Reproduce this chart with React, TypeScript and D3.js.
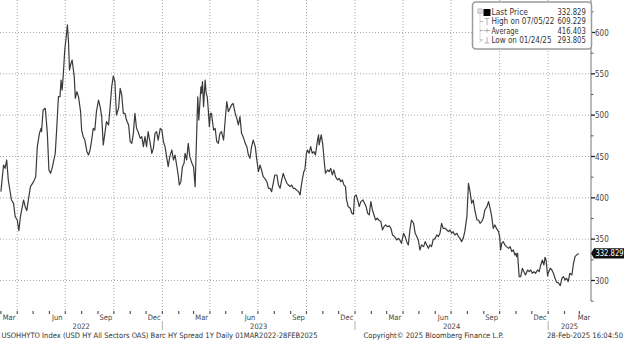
import React from "react";
import * as d3 from "d3";

const START_DATE = "2022-03-01";
// days since START_DATE
const dayOffsets = [
  0, 5, 8, 11, 14, 20, 24, 27, 31, 34, 37, 43, 46, 49, 52, 56, 62, 66, 69, 73, 76, 77, 80, 84, 85, 88, 91, 94, 97,
  103, 106, 109, 112, 114, 116, 118, 121, 124, 126, 128, 130, 132, 135, 139, 141, 144, 147, 151, 153, 156, 159,
  163, 166, 169, 172, 175, 178, 181, 185, 188, 191, 194, 197, 200, 204, 207, 210, 213, 216, 219, 223, 226, 229,
  232, 235, 238, 242, 245, 248, 251, 254, 257, 260, 264, 267, 270, 273, 276, 279, 283, 286, 289, 292, 295, 298,
  302, 305, 308, 311, 314, 317, 320, 324, 327, 330, 333, 336, 338, 341, 344, 347, 349, 352, 355, 358, 362, 365,
  368, 373, 375, 379, 380, 382, 384, 387, 389, 391, 393, 395, 397, 399, 403, 406, 409, 412, 415, 418, 422, 425,
  428, 431, 434, 437, 440, 444, 447, 450, 453, 456, 459, 463, 466, 469, 472, 475, 478, 482, 485, 488, 491, 494,
  497, 500, 504, 507, 510, 513, 516, 519, 523, 526, 529, 532, 535, 538, 542, 545, 548, 551, 554, 557, 560, 564,
  567, 569, 571, 574, 576, 579, 581, 584, 587, 590, 593, 596, 600, 602, 603, 607, 610, 613, 615, 619, 622, 625,
  628, 631, 634, 638, 641, 644, 647, 650, 653, 655, 658, 662, 665, 668, 670, 673, 676, 679, 682, 686, 689, 692,
  695, 698, 701, 704, 707, 710, 713, 716, 720, 723, 726, 729, 732, 736, 739, 742, 746, 750, 753, 756, 759, 763,
  766, 769, 772, 775, 778, 782, 785, 788, 791, 794, 797, 801, 804, 807, 810, 813, 816, 819, 823, 826, 829, 832,
  835, 838, 842, 845, 848, 851, 854, 857, 860, 864, 867, 870, 873, 876, 879, 883, 886, 889, 892, 895, 898, 902,
  905, 908, 911, 914, 917, 921, 924, 927, 930, 933, 936, 939, 943, 945, 947, 949, 952, 955, 958, 962, 965, 968,
  971, 974, 976, 977, 979, 982, 985, 988, 991, 994, 998, 1001, 1004, 1007, 1010, 1013, 1017, 1020, 1023, 1026,
  1029, 1031, 1033, 1036, 1037, 1041, 1044, 1047, 1050, 1053, 1056, 1060, 1063, 1066, 1069, 1072, 1075, 1078,
  1082, 1085, 1088, 1091, 1095,
];
const spreadValues = [
  407.5, 439.7, 435.7, 445.8, 421.6, 397.4, 393.3, 377.2, 373.2, 360.3, 377.2, 397.4, 389.3, 384.5, 397.4, 413.5,
  419.6, 425.6, 461.9, 478.0, 484.1, 480.0, 506.2, 508.3, 502.2, 478.0, 433.7, 429.6, 435.7, 453.8, 486.1, 522.4,
  522.4, 542.5, 530.4, 546.6, 578.8, 596.0, 609.2, 590.0, 554.6, 560.7, 566.7, 546.6, 520.4, 528.4, 522.4, 504.2,
  482.0, 474.0, 469.9, 455.8, 451.8, 457.9, 469.9, 484.1, 482.0, 504.2, 518.3, 510.3, 498.2, 463.9, 478.0, 492.1,
  488.1, 510.3, 534.5, 547.4, 540.5, 500.2, 508.3, 532.4, 524.4, 502.2, 502.2, 494.1, 488.1, 467.9, 465.9, 478.0,
  502.2, 484.1, 480.0, 472.0, 474.0, 461.9, 474.0, 461.9, 480.0, 465.9, 453.8, 459.9, 478.0, 480.0, 469.9, 484.1,
  482.0, 467.9, 461.9, 449.8, 437.7, 449.8, 457.9, 445.8, 451.8, 439.7, 427.6, 415.5, 419.6, 437.7, 441.7, 453.8,
  445.8, 465.9, 449.8, 441.7, 437.7, 413.5, 522.3, 494.1, 534.4, 526.4, 540.5, 510.3, 542.5, 526.4, 522.3, 506.2,
  486.1, 502.2, 502.2, 482.0, 484.0, 467.9, 465.9, 478.0, 480.0, 469.9, 494.1, 516.3, 504.2, 508.2, 512.3, 514.3,
  502.2, 496.1, 488.1, 498.2, 478.0, 474.0, 465.9, 461.9, 451.8, 447.8, 461.9, 469.9, 461.9, 445.7, 431.6, 439.7,
  433.6, 425.6, 423.6, 419.5, 411.5, 411.5, 407.4, 417.5, 427.6, 427.6, 415.5, 411.5, 421.5, 429.6, 423.6, 417.5,
  415.5, 413.5, 415.5, 411.5, 411.5, 409.5, 407.5, 403.5, 413.6, 421.6, 431.7, 433.7, 453.9, 457.9, 453.9, 461.9,
  453.9, 455.9, 451.9, 470.0, 476.1, 464.0, 476.1, 464.0, 441.8, 429.7, 433.7, 431.7, 435.7, 427.7, 433.7, 425.7,
  421.6, 423.6, 419.6, 421.6, 415.6, 413.6, 397.4, 389.4, 387.4, 381.3, 380.1, 401.5, 403.5, 397.4, 389.4, 395.4,
  397.4, 393.4, 389.4, 381.3, 379.3, 395.4, 385.3, 379.3, 373.2, 375.3, 373.2, 371.2, 361.1, 365.2, 367.2, 365.2,
  366.0, 363.2, 355.1, 353.1, 349.0, 351.0, 349.0, 345.0, 357.1, 353.1, 347.0, 343.0, 361.1, 373.2, 369.2, 357.1,
  353.1, 349.0, 336.9, 343.0, 341.0, 347.0, 343.0, 338.9, 343.0, 341.0, 349.0, 351.0, 355.1, 353.1, 357.1, 369.2,
  363.1, 363.1, 361.1, 359.1, 361.1, 357.1, 359.1, 355.1, 357.1, 353.1, 351.0, 347.0, 351.0, 359.1, 377.2, 417.6,
  407.5, 393.4, 397.4, 385.3, 373.2, 373.2, 369.2, 371.2, 375.2, 385.3, 389.3, 395.4, 387.3, 377.2, 363.1, 367.2,
  363.1, 359.1, 353.1, 336.9, 345.0, 347.0, 343.0, 341.0, 338.9, 341.0, 334.9, 336.9, 330.9, 332.9, 328.9, 332.9,
  304.7, 304.7, 314.8, 310.7, 306.7, 312.7, 310.7, 312.7, 308.7, 310.7, 308.7, 312.7, 310.7, 318.8, 324.8, 318.8,
  328.1, 324.8, 305.5, 308.7, 314.8, 312.7, 308.7, 302.7, 298.0, 297.5, 293.8, 302.7, 304.7, 300.6, 302.7, 298.6,
  308.7, 306.7, 320.8, 328.9, 331.0, 332.8,
];

const yTickValues = [300, 350, 400, 450, 500, 550, 600];
const yMinorValues = [275, 325, 375, 425, 475, 525, 575, 625];
const monthLabelNames = ["Mar", "Jun", "Sep", "Dec"];
const yearLabels = ["2022", "2023", "2024", "2025"];
const legendLabels = ["Last Price", "High on 07/05/22", "Average", "Low on 01/24/25"];
const legendValues = ["332.829", "609.229", "416.403", "293.805"];
const lastPriceLabel = "332.829";
const lastPrice = 332.829;
const footerLeft = "USOHHYTO Index (USD HY All Sectors OAS) Barc HY Spread 1Y  Daily 01MAR2022-28FEB2025";
const footerMid = "Copyright\u00A9 2025 Bloomberg Finance L.P.";
const footerRight = "28-Feb-2025 16:04:50";

const W = 624;
const H = 341;
const AXIS_X = 591;
const FONT = "'DejaVu Sans Condensed', 'DejaVu Sans', sans-serif";
const legendLabelWidths = [36.5, 63, 27, 60];

export default function App() {
  const start = d3.timeParse("%Y-%m-%d")(START_DATE) as Date;
  const data = dayOffsets.map((d, i) => ({ date: d3.timeDay.offset(start, d), value: spreadValues[i] }));

  const x = d3
    .scaleTime()
    .domain([new Date(2022, 2, 1), new Date(2025, 2, 1)])
    .range([0.9, 579.3]);
  const y = d3.scaleLinear().domain([300, 600]).range([280.5, 32.5]);

  const line = d3
    .line<{ date: Date; value: number }>()
    .x((d) => x(d.date))
    .y((d) => y(d.value));

  const months = d3.timeMonth.range(new Date(2022, 2, 1), new Date(2025, 2, 2));
  const gridMonths = months.filter((m) => m.getMonth() % 3 === 0);
  const labelMonths = months.filter((m) => m.getMonth() % 3 === 2);
  const yearStarts = [new Date(2023, 0, 1), new Date(2024, 0, 1), new Date(2025, 0, 1)];

  const yearCenters = yearLabels.map((yl) => {
    const yr = +yl;
    const a = Math.max(0, x(new Date(yr, 0, 1)));
    const b = Math.min(AXIS_X, x(new Date(yr + 1, 0, 1)));
    return (a + b) / 2;
  });

  const tagY = y(lastPrice);
  const legendRowY = [15, 24.3, 33.6, 43];

  return (
    <svg width={W} height={H} style={{ position: "absolute", left: 0, top: 0, background: "#fff" }}>
      <rect x={0} y={0} width={W} height={H} fill="#fff" />
      {/* horizontal gridlines */}
      {yTickValues.map((t) => (
        <line key={"hg" + t} x1={0} x2={AXIS_X} y1={y(t)} y2={y(t)} stroke="#a8a8a8" strokeWidth={1} strokeDasharray="1,2" />
      ))}
      {/* vertical gridlines */}
      {gridMonths.map((m) => (
        <line key={"vg" + m.getTime()} x1={x(m)} x2={x(m)} y1={0} y2={311} stroke="#a8a8a8" strokeWidth={1} strokeDasharray="1,2" />
      ))}
      {/* month ticks */}
      {months.map((m) => (
        <line key={"mt" + m.getTime()} x1={x(m)} x2={x(m)} y1={311} y2={314} stroke="#555" strokeWidth={1.2} />
      ))}
      {/* month labels */}
      {labelMonths.map((m) => {
        const mid = (x(m) + x(d3.timeMonth.offset(m, 1))) / 2;
        return (
          <text key={"ml" + m.getTime()} x={Math.min(mid, 584)} y={320} fontSize={7.5} fontFamily={FONT} fill="#444" textAnchor="middle">
            {monthLabelNames[(m.getMonth() - 2) / 3]}
          </text>
        );
      })}
      {/* year separators */}
      {yearStarts.map((d) => (
        <line key={"ys" + d.getTime()} x1={x(d)} x2={x(d)} y1={321} y2={330} stroke="#b0b0b0" strokeWidth={1} />
      ))}
      {yearLabels.map((yl, i) => (
        <text key={"yl" + yl} x={yearCenters[i]} y={328.5} fontSize={7.5} fontFamily={FONT} fill="#444" textAnchor="middle">
          {yl}
        </text>
      ))}
      {/* right axis */}
      <line x1={AXIS_X} x2={AXIS_X} y1={0} y2={301} stroke="#777" strokeWidth={1} />
      {yMinorValues.map((t) => (
        <line key={"mn" + t} x1={AXIS_X} x2={AXIS_X + 2.5} y1={y(t)} y2={y(t)} stroke="#555" strokeWidth={1} />
      ))}
      {yTickValues.map((t) => (
        <g key={"yt" + t}>
          <line x1={AXIS_X} x2={AXIS_X + 4} y1={y(t)} y2={y(t)} stroke="#222" strokeWidth={1.3} />
          <text x={AXIS_X + 4} y={y(t) + 3} fontSize={8} fontFamily={FONT} fill="#444">
            {t}
          </text>
        </g>
      ))}
      {/* series line */}
      <path d={line(data) || ""} fill="none" stroke="#3a3a3a" strokeWidth={1.2} strokeLinejoin="round" />
      {/* last price tag */}
      <path
        d={`M${AXIS_X},${tagY} L${AXIS_X + 3},${tagY - 5.2} L${W},${tagY - 5.2} L${W},${tagY + 5.2} L${AXIS_X + 3},${tagY + 5.2} Z`}
        fill="#111"
      />
      <text x={AXIS_X + 4.5} y={tagY + 3} fontSize={8} fontFamily={FONT} fill="#fff" textLength={28} lengthAdjust="spacingAndGlyphs">
        {lastPriceLabel}
      </text>
      {/* legend */}
      <rect x={472.5} y={2} width={119} height={47} rx={3.5} fill="#fff" stroke="#9a9a9a" strokeWidth={1.5} />
      <g stroke="#a0a0a0" strokeWidth={0.8} fill="none">
        <rect x={478} y={9} width={4} height={4} />
        <line x1={479} x2={481} y1={11} y2={11} />
        <line x1={480} x2={480} y1={13} y2={43} strokeDasharray="1,1" />
        <line x1={480} x2={483} y1={21.5} y2={21.5} />
        <line x1={480} x2={483} y1={30.5} y2={30.5} />
        <line x1={480} x2={483} y1={40} y2={40} />
        {/* high */}
        <line x1={484.5} x2={489.5} y1={18.5} y2={18.5} />
        <line x1={487} x2={487} y1={18.5} y2={25} />
        {/* average */}
        <line x1={484} x2={490} y1={30.5} y2={30.5} />
        <line x1={487} x2={487} y1={28.5} y2={32.5} />
        {/* low */}
        <line x1={487} x2={487} y1={37} y2={43} />
        <line x1={484.5} x2={489.5} y1={43} y2={43} />
      </g>
      <rect x={483.5} y={9} width={7} height={7} fill="#000" />
      {legendLabels.map((l, i) => (
        <text
          key={"lg" + i}
          x={491.5}
          y={legendRowY[i]}
          fontSize={8}
          fontFamily={FONT}
          fill="#333"
          textLength={legendLabelWidths[i]}
          lengthAdjust="spacingAndGlyphs"
        >
          {l}
        </text>
      ))}
      {legendValues.map((v, i) => (
        <text
          key={"lv" + i}
          x={557.5}
          y={legendRowY[i]}
          fontSize={8}
          fontFamily={FONT}
          fill="#333"
          textLength={28.3}
          lengthAdjust="spacingAndGlyphs"
        >
          {v}
        </text>
      ))}
      {/* footer */}
      <text x={1.5} y={338} fontSize={7.5} fontFamily={FONT} fill="#333" textLength={316} lengthAdjust="spacingAndGlyphs">
        {footerLeft}
      </text>
      <text x={363.5} y={338} fontSize={7.5} fontFamily={FONT} fill="#333" textLength={140} lengthAdjust="spacingAndGlyphs">
        {footerMid}
      </text>
      <text x={547} y={338} fontSize={7.5} fontFamily={FONT} fill="#333" textLength={76} lengthAdjust="spacingAndGlyphs">
        {footerRight}
      </text>
    </svg>
  );
}
